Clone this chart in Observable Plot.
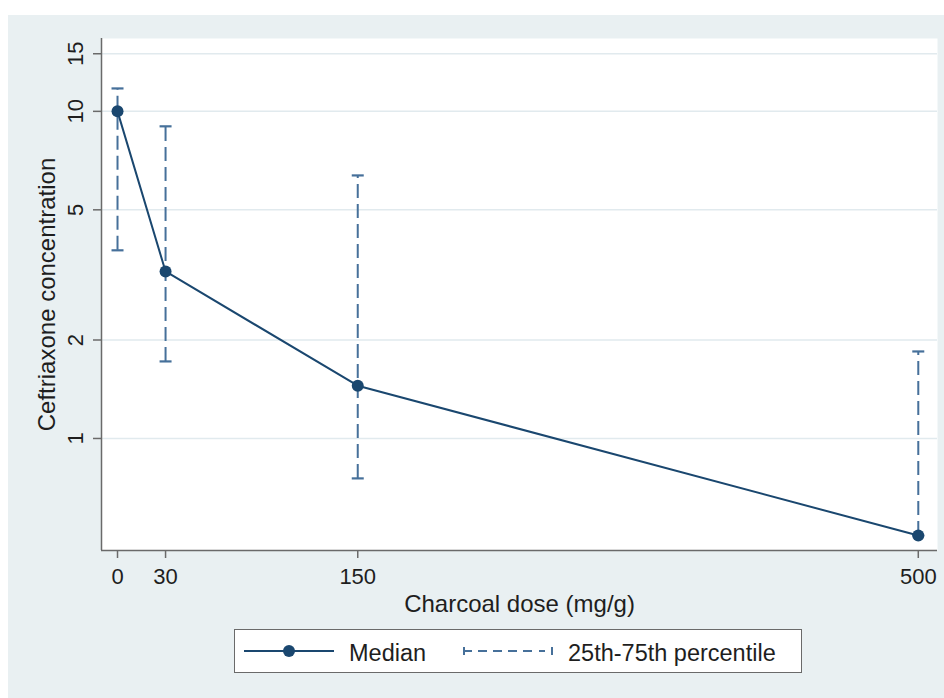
<!DOCTYPE html>
<html><head><meta charset="utf-8">
<script src="https://cdn.jsdelivr.net/npm/d3@7"></script>
<script src="https://cdn.jsdelivr.net/npm/@observablehq/plot@0.6"></script>
<style>
body{margin:0;background:#fff;font-family:"Liberation Sans",Arial,sans-serif;}
#fig{position:absolute;left:8px;top:15px;width:936px;height:683px;background:#e9f0f2;}
#legend{position:absolute;left:226px;top:614px;width:568px;height:44px;box-sizing:border-box;background:#fff;border:1px solid #6a6a6a;font-size:23.5px;color:#1e1e1e;}
#legend .item{position:absolute;top:2px;height:42px;line-height:42px;white-space:nowrap;}
#legend svg{position:absolute;top:0;}
</style></head>
<body>
<div id="fig"><div id="chart"></div>
<div id="legend">
  <svg style="left:9px" width="92" height="42"><line x1="0" x2="90" y1="21" y2="21" stroke="#1a476f" stroke-width="2"/><circle cx="45" cy="21" r="6" fill="#1a476f"/></svg>
  <span class="item" style="left:114px">Median</span>
  <svg style="left:228px" width="94" height="42"><line x1="2" x2="89" y1="21" y2="21" stroke="#46709a" stroke-width="2" stroke-dasharray="7,6,9,6,9,6,9,6,9"/><line x1="1" x2="1" y1="17" y2="25" stroke="#46709a" stroke-width="2"/><line x1="89" x2="89" y1="17" y2="25" stroke="#46709a" stroke-width="2"/></svg>
  <span class="item" style="left:333px">25th-75th percentile</span>
</div>
</div>
<script>
const doses = [0, 30, 150, 500];
const medians = [10, 3.24, 1.45, 0.505];
const p25 = [3.76, 1.72, 0.755, 0.505];
const p75 = [11.75, 9.0, 6.37, 1.845];
const yTicks = [1, 2, 5, 10, 15];
const xTicks = [0, 30, 150, 500];
const xDomain = [-10, 512];
const yDomain = [0.4545, 16.7];

const data = doses.map((d, i) => ({dose: d, median: medians[i], lo: p25[i], hi: p75[i]}));
const capSymbol = {draw(ctx, size) { const r = 6; ctx.moveTo(-r, 0); ctx.lineTo(r, 0); }};

const chart = Plot.plot({
  width: 936, height: 610,
  marginLeft: 93, marginRight: 7, marginTop: 23, marginBottom: 75,
  style: {background: "transparent", fontFamily: "'Liberation Sans', Arial, sans-serif", fontSize: "22px", color: "#1e1e1e"},
  x: {domain: xDomain},
  y: {type: "log", domain: yDomain},
  marks: [
    Plot.frame({fill: "white", stroke: "none"}),
    Plot.gridY(yTicks, {stroke: "#e1eaee", strokeOpacity: 1, strokeWidth: 1.5}),
    Plot.ruleX([xDomain[0]], {stroke: "#6a6a6a", strokeWidth: 1.5}),
    Plot.ruleY([yDomain[0]], {stroke: "#6a6a6a", strokeWidth: 1.5}),
    Plot.axisY(yTicks, {tickRotate: -90, tickSize: 8, tickPadding: 11, tickFormat: d => String(d), stroke: "#6a6a6a", strokeWidth: 1.5,
      label: "Ceftriaxone concentration", labelAnchor: "center", labelArrow: "none", labelOffset: 64, fontSize: 22}),
    Plot.axisX(xTicks, {tickSize: 8, tickPadding: 10, tickFormat: d => String(d), stroke: "#6a6a6a", strokeWidth: 1.5,
      label: "Charcoal dose (mg/g)", labelAnchor: "center", labelArrow: "none", labelOffset: 61, fontSize: 22}),
    Plot.ruleX(data, {x: "dose", y1: "lo", y2: "hi", stroke: "#46709a", strokeWidth: 2, strokeDasharray: "14,6"}),
    Plot.dot(data, {x: "dose", y: "lo", symbol: capSymbol, stroke: "#46709a", strokeWidth: 2.2, r: 6}),
    Plot.dot(data, {x: "dose", y: "hi", symbol: capSymbol, stroke: "#46709a", strokeWidth: 2.2, r: 6}),
    Plot.line(data, {x: "dose", y: "median", stroke: "#1a476f", strokeWidth: 2}),
    Plot.dot(data, {x: "dose", y: "median", r: 6, fill: "#1a476f", stroke: "none"})
  ]
});
// enlarge axis-title text slightly relative to tick labels
chart.querySelectorAll("[aria-label$='axis label'] text, [aria-label='x-axis label'] text, [aria-label='y-axis label'] text").forEach(t => t.setAttribute("font-size", "24"));
document.getElementById("chart").appendChild(chart);
</script>
</body></html>
